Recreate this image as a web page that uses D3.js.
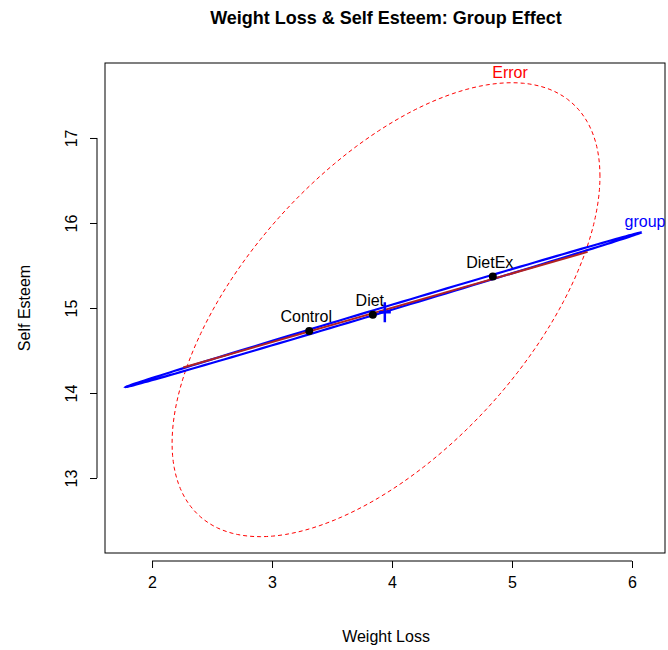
<!DOCTYPE html>
<html><head><meta charset="utf-8">
<script src="https://cdn.jsdelivr.net/npm/d3@7"></script>
<style>body{margin:0;background:#fff}text{font-family:"Liberation Sans",Arial,sans-serif}</style>
</head><body><div id="chart"></div>
<script>
// Group means
const groups = ["Control", "Diet", "DietEx"];
const meanX = [3.31, 3.84, 4.84];
const meanY = [14.73, 14.92, 15.37];
const grand = [3.94, 14.95];
// Ellipses: center, half-extents (sd*c) and correlation
const ellipseNames = ["Error", "group"];
const ellipseCx = [3.95, 3.93];
const ellipseCy = [14.98, 14.98];
const ellipseSdX = [1.783, 2.15];
const ellipseSdY = [2.67, 0.91];
const ellipseR = [0.588, 0.9995];
const ellipseColors = ["red", "blue"];
// Contrast line endpoints
const lineX = [2.26, 5.63];
const lineY = [14.30, 15.66];
const xTicks = [2, 3, 4, 5, 6];
const yTicks = [13, 14, 15, 16, 17];

const W = 668, H = 650;
const margin = { top: 63, right: 3, bottom: 97, left: 105 };
const svg = d3.select("#chart").append("svg").attr("width", W).attr("height", H);

const x = d3.scaleLinear().domain([1.608, 6.275]).range([margin.left, W - margin.right]);
const y = d3.scaleLinear().domain([12.118, 17.882]).range([H - margin.bottom, margin.top]);

svg.append("clipPath").attr("id", "clip").append("rect")
  .attr("x", margin.left).attr("y", margin.top)
  .attr("width", W - margin.right - margin.left).attr("height", H - margin.bottom - margin.top);

svg.append("text").attr("x", 386).attr("y", 24).attr("text-anchor", "middle")
  .attr("font-size", 18).attr("font-weight", "bold").text("Weight Loss & Self Esteem: Group Effect");

svg.append("g").attr("transform", `translate(0,${H - margin.bottom + 8})`)
  .call(d3.axisBottom(x).tickValues(xTicks).tickFormat(d3.format("d")).tickSize(7).tickSizeOuter(0).tickPadding(9))
  .call(g => g.select(".domain").attr("d", `M${x(2)},0H${x(6)}`))
  .selectAll("text").attr("font-size", 16);
svg.append("g").attr("transform", `translate(${margin.left - 8},0)`)
  .call(d3.axisLeft(y).tickValues(yTicks).tickFormat(d3.format("d")).tickSize(7).tickSizeOuter(0))
  .call(g => g.select(".domain").attr("d", `M0,${y(13)}V${y(17)}`))
  .selectAll("text").attr("font-size", 16).attr("text-anchor", "middle")
  .attr("x", 0).attr("y", 0).attr("dy", null)
  .attr("transform", "translate(-20,0) rotate(-90)");
svg.selectAll(".domain, .tick line").attr("stroke", "#000");

svg.append("rect").attr("x", margin.left).attr("y", margin.top)
  .attr("width", W - margin.right - margin.left).attr("height", H - margin.bottom - margin.top)
  .attr("fill", "none").attr("stroke", "#000");

svg.append("text").attr("x", 386).attr("y", 642).attr("text-anchor", "middle").attr("font-size", 16).text("Weight Loss");
svg.append("text").attr("transform", "translate(30,308) rotate(-90)").attr("text-anchor", "middle").attr("font-size", 16).text("Self Esteem");

const plot = svg.append("g").attr("clip-path", "url(#clip)");

function ellipsePts(i) {
  const a = ellipseSdX[i], b = ellipseSdY[i], r = ellipseR[i];
  return d3.range(0, 361, 2).map(t => {
    const th = t * Math.PI / 180;
    return [ellipseCx[i] + a * Math.cos(th), ellipseCy[i] + b * (r * Math.cos(th) + Math.sqrt(1 - r * r) * Math.sin(th))];
  });
}
const line = d3.line().x(d => x(d[0])).y(d => y(d[1]));
ellipseNames.forEach((n, i) => {
  plot.append("path").attr("d", line(ellipsePts(i))).attr("fill", "none")
    .attr("stroke", ellipseColors[i]).attr("stroke-width", i === 0 ? 1 : 2.2)
    .attr("stroke-dasharray", i === 0 ? "4,3" : null);
});
plot.append("path").attr("d", line(lineX.map((v, i) => [v, lineY[i]])))
  .attr("stroke", "#b22222").attr("stroke-width", 2).attr("fill", "none");

svg.append("text").attr("x", 510).attr("y", 78).attr("text-anchor", "middle").attr("fill", "red").attr("font-size", 16).text("Error");
svg.append("text").attr("x", 645).attr("y", 227).attr("text-anchor", "middle").attr("fill", "blue").attr("font-size", 16).text("group");

groups.forEach((g, i) => {
  svg.append("circle").attr("cx", x(meanX[i])).attr("cy", y(meanY[i])).attr("r", 4).attr("fill", "#000");
  svg.append("text").attr("x", x(meanX[i]) - 3).attr("y", y(meanY[i]) - 9).attr("text-anchor", "middle")
    .attr("font-size", 16).text(g);
});
const gx = x(grand[0]), gy = y(grand[1]);
svg.append("path").attr("d", `M${gx - 6},${gy}H${gx + 6}M${gx},${gy - 10}V${gy + 10}`)
  .attr("stroke", "blue").attr("stroke-width", 2.5);
</script></body></html>
